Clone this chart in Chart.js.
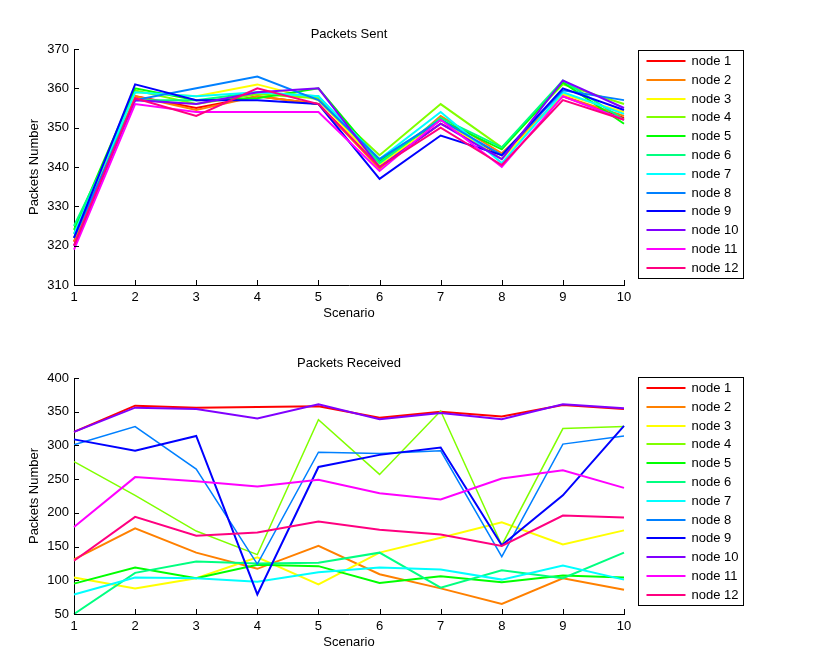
<!DOCTYPE html>
<html>
<head>
<meta charset="utf-8">
<script src="https://cdn.jsdelivr.net/npm/chart.js@4.4.0/dist/chart.umd.min.js"></script>
<style>
  body { margin: 0; background: #fff; }
  #wrap { position: relative; width: 824px; height: 672px; background: #fff; }
  canvas { position: absolute; left: 0; }
</style>
</head>
<body>
<div id="wrap">
  <canvas id="sent" width="824" height="336" style="top:0"></canvas>
  <canvas id="recv" width="824" height="336" style="top:329px"></canvas>
</div>
<script>
// scenarios on x axis
const scenarios = ['1', '2', '3', '4', '5', '6', '7', '8', '9', '10'];
const nodeNames = ['node 1', 'node 2', 'node 3', 'node 4', 'node 5', 'node 6',
                   'node 7', 'node 8', 'node 9', 'node 10', 'node 11', 'node 12'];
// hsv(12) colours
const nodeColors = ['#ff0000', '#ff8000', '#ffff00', '#80ff00', '#00ff00', '#00ff80',
                    '#00ffff', '#0080ff', '#0000ff', '#8000ff', '#ff00ff', '#ff0080'];

// Packets Sent, one row per node
const sent1  = [321, 358, 355, 358, 356, 340, 351, 343, 358, 352.5];
const sent2  = [321, 358, 354.5, 358, 356, 339.5, 353, 343.5, 358, 353];
const sent3  = [322, 359, 358, 361, 357, 340.5, 352, 342, 358.5, 354];
const sent4  = [323, 359.5, 356, 358.5, 357.5, 343, 356, 345, 361, 356];
const sent5  = [324, 360, 357, 357.5, 360, 341.5, 352, 344.5, 361.5, 351];
const sent6  = [325, 357, 357, 359, 358, 341, 352.5, 345, 362, 352];
const sent7  = [323, 359, 358, 359, 358, 342, 354, 341, 359, 353.5];
const sent8  = [322, 357, 360, 363, 357, 342, 352, 343, 359.5, 357];
const sent9  = [322, 361, 357, 357, 356, 337, 348, 343, 360, 354.5];
const sent10 = [320, 357, 356, 359, 360, 340, 351, 342, 362, 355];
const sent11 = [319, 356, 354, 354, 354, 339, 352, 340, 358, 352];
const sent12 = [320, 357.5, 353, 360, 356, 340, 350, 340.5, 357, 352];

// Packets Received, one row per node
const recv1  = [320, 359, 356, 357, 358, 341, 350, 343, 360, 354];
const recv2  = [131, 177, 141, 117, 151, 109, 88, 65, 103, 86];
const recv3  = [104, 88, 103, 134, 94, 141, 163, 186, 153, 174];
const recv4  = [276, 226, 173, 138, 338, 257, 351, 152, 325, 328];
const recv5  = [95, 119, 103, 123, 121, 96, 106, 97, 107, 104];
const recv6  = [50, 111, 128, 125, 126, 141, 89, 115, 103, 141];
const recv7  = [79, 104, 103, 98, 112, 119, 116, 101, 122, 101];
const recv8  = [301, 328, 265, 124, 290, 288, 292, 135, 302, 314];
const recv9  = [309, 292, 314, 79, 268, 286, 297, 152, 226, 329];
const recv10 = [320, 356, 354, 340, 361, 339, 348, 339, 361, 355];
const recv11 = [179, 253, 247, 239, 249, 229, 220, 251, 263, 237];
const recv12 = [129, 194, 166, 171, 187, 175, 168, 151, 196, 193];

const sentData = [sent1, sent2, sent3, sent4, sent5, sent6, sent7, sent8, sent9, sent10, sent11, sent12];
const recvData = [recv1, recv2, recv3, recv4, recv5, recv6, recv7, recv8, recv9, recv10, recv11, recv12];

const FONT = '"Liberation Sans", Arial, Helvetica, sans-serif';
Chart.defaults.font.family = FONT;
Chart.defaults.font.size = 13;
Chart.defaults.color = '#000';

// matlab style ticks pointing inside the axes
const innerTicks = {
  id: 'innerTicks',
  afterDatasetsDraw(chart) {
    const ctx = chart.ctx;
    const a = chart.chartArea;
    const xs = chart.scales.x, ys = chart.scales.y;
    ctx.save();
    ctx.strokeStyle = '#000';
    ctx.lineWidth = 1;
    ctx.beginPath();
    xs.ticks.forEach((t, i) => {
      const x = Math.round(xs.getPixelForTick(i)) + 0.5;
      ctx.moveTo(x, a.bottom);
      ctx.lineTo(x, a.bottom - 5);
    });
    ys.ticks.forEach((t, i) => {
      const y = Math.round(ys.getPixelForTick(i)) + 0.5;
      ctx.moveTo(a.left, y);
      ctx.lineTo(a.left + 5, y);
    });
    ctx.stroke();
    ctx.restore();
  }
};

// title centred over the axes, like matlab
const axesTitle = {
  id: 'axesTitle',
  afterDraw(chart, args, opts) {
    const ctx = chart.ctx;
    const a = chart.chartArea;
    ctx.save();
    ctx.font = '13px ' + FONT;
    ctx.fillStyle = '#000';
    ctx.textAlign = 'center';
    ctx.textBaseline = 'middle';
    ctx.fillText(opts.text, (a.left + a.right) / 2, a.top - 15);
    ctx.restore();
  }
};

// boxed legend on the right
const boxLegend = {
  id: 'boxLegend',
  afterDraw(chart, args, opts) {
    const ctx = chart.ctx;
    const a = chart.chartArea;
    const bx = a.right + 14.5, by = a.top + opts.dy + 0.5;
    ctx.save();
    ctx.fillStyle = '#fff';
    ctx.fillRect(bx, by, 105, 228);
    ctx.strokeStyle = '#000';
    ctx.lineWidth = 1;
    ctx.strokeRect(bx, by, 105, 228);
    ctx.font = '13px ' + FONT;
    ctx.textBaseline = 'middle';
    chart.data.datasets.forEach((ds, i) => {
      const y = by + 10.5 + i * 18.8;
      ctx.strokeStyle = ds.borderColor;
      ctx.lineWidth = 2;
      ctx.beginPath();
      ctx.moveTo(bx + 8, Math.round(y));
      ctx.lineTo(bx + 47, Math.round(y));
      ctx.stroke();
      ctx.fillStyle = '#000';
      ctx.fillText(ds.label, bx + 53, y + 0.5);
    });
    ctx.restore();
  }
};

function makeChart(id, title, rows, yMin, yMax, yStep, widths, dy) {
  const datasets = rows.map((vals, i) => ({
    label: nodeNames[i],
    data: vals,
    borderColor: nodeColors[i],
    backgroundColor: nodeColors[i],
    borderWidth: widths[i],
    pointRadius: 0,
    tension: 0,
    order: rows.length - i
  }));
  return new Chart(document.getElementById(id), {
    type: 'line',
    data: { labels: scenarios, datasets: datasets },
    options: {
      responsive: false,
      animation: false,
      layout: { padding: { left: 0, right: 200, top: 49, bottom: 0 } },
      plugins: {
        legend: { display: false },
        tooltip: { enabled: false },
        title: { display: false },
        axesTitle: { text: title },
        boxLegend: { dy: dy }
      },
      scales: {
        x: {
          offset: false,
          grid: { display: false, drawTicks: false },
          border: { display: true, color: '#000', width: 1 },
          ticks: { padding: 5, color: '#000', maxRotation: 0, autoSkip: false },
          title: { display: true, text: 'Scenario', color: '#000', padding: { top: 0, bottom: 15 } },
          afterFit(s) { s.height = 51; }
        },
        y: {
          min: yMin,
          max: yMax,
          grid: { display: false, drawTicks: false },
          border: { display: true, color: '#000', width: 1 },
          ticks: { stepSize: yStep, padding: 5, color: '#000' },
          title: { display: true, text: 'Packets Number', color: '#000', padding: { top: 27, bottom: 0 } },
          afterFit(s) { s.width = 74; }
        }
      }
    },
    plugins: [innerTicks, axesTitle, boxLegend]
  });
}

const w2 = [2, 2, 2, 2, 2, 2, 2, 2, 2, 2, 2, 2];
const wRecv = [2, 2, 2, 1.5, 2, 2, 2, 1.5, 2, 2, 2, 2];
makeChart('sent', 'Packets Sent', sentData, 310, 370, 10, w2, 1);
makeChart('recv', 'Packets Received', recvData, 50, 400, 50, wRecv, -1);
</script>
</body>
</html>
